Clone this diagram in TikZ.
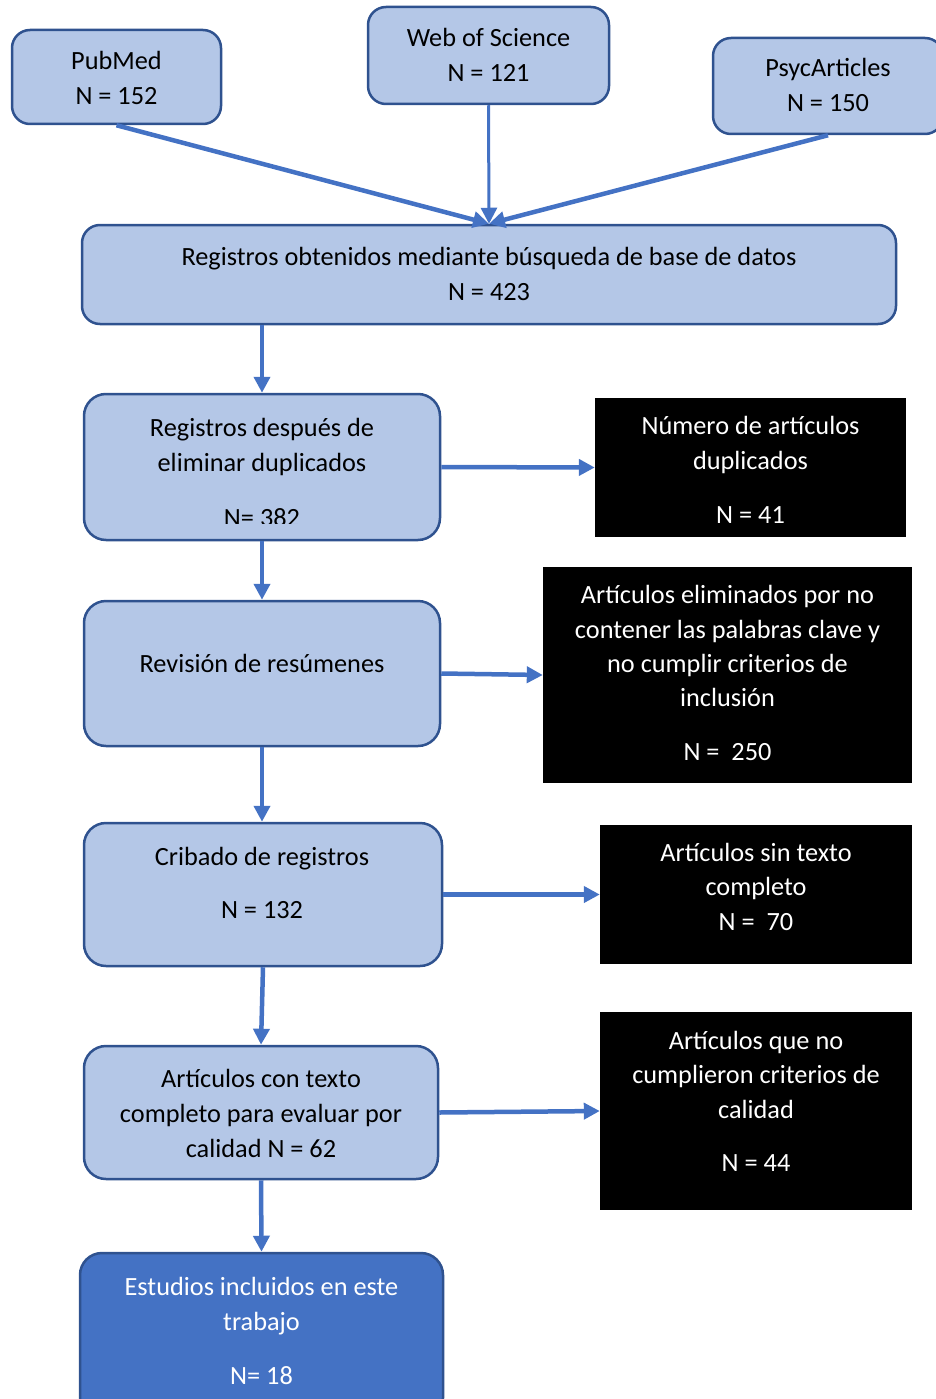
\documentclass[tikz,border=0pt]{standalone}
\usepackage{fontspec}
\setmainfont{Carlito}
\usetikzlibrary{arrows.meta}
\definecolor{boxfill}{HTML}{B4C7E7}
\definecolor{boxline}{HTML}{2F528F}
\definecolor{arrowblue}{HTML}{4472C4}
\begin{document}
\begin{tikzpicture}[x=1pt,y=-1pt,
  bluebox/.style={draw=boxline,line width=2.5pt,fill=boxfill,rounded corners=18pt,inner sep=0pt},
  darkbox/.style={fill=black,draw=none,inner sep=0pt},
  finalbox/.style={draw=boxline,line width=2.5pt,fill=arrowblue,rounded corners=22pt,inner sep=0pt},
  txt/.style={anchor=base,inner sep=0pt,font=\fontsize{26.3}{30}\selectfont},
  wtxt/.style={txt,text=white},
  conn/.style={draw=arrowblue,line width=4.5pt,-{Triangle[length=16pt,width=16pt]}},
  thinconn/.style={draw=arrowblue,line width=3pt,-{Triangle[length=16pt,width=16pt]}}]
\useasboundingbox (0,0) rectangle (935,1399);
% boxes
\node[bluebox,minimum width=209pt,minimum height=94pt] (pub) at (116.5,77) {};
\node[bluebox,minimum width=241pt,minimum height=97pt] (wos) at (488.5,55.5) {};
\node[bluebox,minimum width=230pt,minimum height=96pt] (psy) at (828,86) {};
\node[bluebox,minimum width=814pt,minimum height=99pt] (main) at (489,274.5) {};
\node[bluebox,minimum width=356pt,minimum height=146pt,rounded corners=22pt] (b1) at (262,467) {};
\node[darkbox,minimum width=311pt,minimum height=139pt] (d1) at (750.5,467.5) {};
\node[bluebox,minimum width=356pt,minimum height=145pt,rounded corners=22pt] (b2) at (262,673.5) {};
\node[darkbox,minimum width=369pt,minimum height=216pt] (d2) at (727.5,675) {};
\node[bluebox,minimum width=358pt,minimum height=143pt,rounded corners=22pt] (b3) at (263,894.5) {};
\node[darkbox,minimum width=312pt,minimum height=139pt] (d3) at (756,894.5) {};
\node[bluebox,minimum width=354pt,minimum height=133pt,rounded corners=22pt] (b4) at (261,1112.5) {};
\node[darkbox,minimum width=312pt,minimum height=198pt] (d4) at (756,1111) {};
\node[finalbox,minimum width=363pt,minimum height=167pt] (b5) at (261.5,1336.5) {};
% texts
\node[txt] (pubt1) at (116.5,70) {PubMed};
\node[txt] (pubt2) at (116.5,105) {N = 152};
\node[txt] (wost1) at (488.5,47) {Web of Science};
\node[txt] (wost2) at (488.5,82) {N = 121};
\node[txt] (psyt1) at (828,77) {PsycArticles};
\node[txt] (psyt2) at (828,112) {N = 150};
\node[txt] (maint1) at (489,265) {Registros obtenidos mediante búsqueda de base de datos};
\node[txt] (maint2) at (489,300) {N = 423};
\node[txt] (b1t1) at (262,436) {Registros después de};
\node[txt] (b1t2) at (262,471) {eliminar duplicados};
\begin{scope}
\clip (100,480) rectangle (430,523.3);
\node[txt] (b1t3) at (262,526) {N= 382};
\end{scope}
\node[wtxt] (d1t1) at (750.5,434) {Número de artículos};
\node[wtxt] (d1t2) at (750.5,469) {duplicados};
\node[wtxt] (d1t3) at (750.5,523) {N = 41};
\node[txt] (b2t1) at (262,672) {Revisión de resúmenes};
\node[wtxt] (d2t1) at (727.5,603) {Artículos eliminados por no};
\node[wtxt] (d2t2) at (727.5,638) {contener las palabras clave y};
\node[wtxt] (d2t3) at (727.5,672) {no cumplir criterios de};
\node[wtxt] (d2t4) at (727.5,706) {inclusión};
\node[wtxt] (d2t5) at (727.5,760) {N = \ 250};
\node[txt] (b3t1) at (262,865) {Cribado de registros};
\node[txt] (b3t2) at (262,918) {N = 132};
\node[wtxt] (d3t1) at (756,861) {Artículos sin texto};
\node[wtxt] (d3t2) at (756,895) {completo};
\node[wtxt] (d3t3) at (756,930) {N = \ 70};
\node[txt] (b4t1) at (261,1087) {Artículos con texto};
\node[txt] (b4t2) at (261,1122) {completo para evaluar por};
\node[txt] (b4t3) at (261,1157) {calidad N = 62};
\node[wtxt] (d4t1) at (756,1049) {Artículos que no};
\node[wtxt] (d4t2) at (756,1083) {cumplieron criterios de};
\node[wtxt] (d4t3) at (756,1118) {calidad};
\node[wtxt] (d4t4) at (756,1171) {N = 44};
\node[wtxt] (b5t1) at (261.5,1295) {Estudios incluidos en este};
\node[wtxt] (b5t2) at (261.5,1330) {trabajo};
\node[wtxt] (b5t3) at (261.5,1384) {N= 18};
% connectors
\draw[conn] (pub.south) -- (main.north);
\draw[thinconn] (wos.south) -- (main.north);
\draw[conn] (psy.south) -- (main.north);
\draw[conn] (main.south -| b1.south) -- (b1.north);
\draw[conn] (b1.south) -- (b2.north);
\draw[conn] (b2.south) -- (b3.north -| b2.south);
\draw[conn] (b3.south) -- (b4.north);
\draw[conn] (b4.south) -- (b5.north);
\draw[conn] (b1.east) -- (d1.west);
\draw[conn] (b2.east) -- (d2.west);
\draw[conn] (b3.east) -- (d3.west);
\draw[conn] (b4.east) -- (d4.west);
\end{tikzpicture}
\end{document}
